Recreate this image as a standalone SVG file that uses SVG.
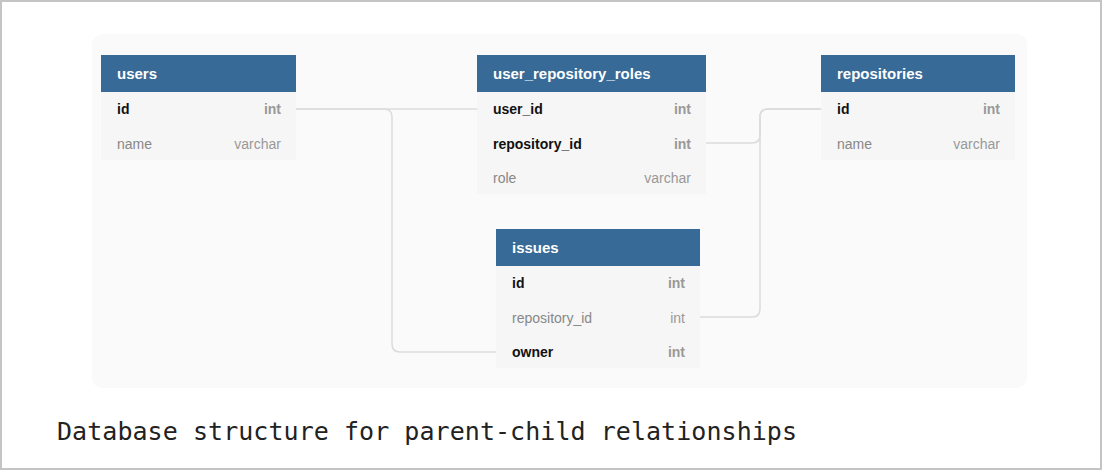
<svg xmlns="http://www.w3.org/2000/svg" width="1102" height="470" viewBox="0 0 1102 470">
<style>
.hdr{fill:#376a96}
.row{fill:#f6f6f6}
.ht{font-family:"Liberation Sans",Arial,sans-serif;font-size:15px;font-weight:bold;fill:#ffffff}
.fk{font-family:"Liberation Sans",Arial,sans-serif;font-size:14px;font-weight:bold;fill:#111111}
.fn{font-family:"Liberation Sans",Arial,sans-serif;font-size:14px;fill:#888888}
.tk{font-family:"Liberation Sans",Arial,sans-serif;font-size:14px;font-weight:bold;fill:#999999;text-anchor:end}
.tn{font-family:"Liberation Sans",Arial,sans-serif;font-size:14px;fill:#999999;text-anchor:end}
.conn{fill:none;stroke:#dcdcdc;stroke-width:1.5}
.cap{font-family:"DejaVu Sans Mono","Liberation Mono",monospace;font-size:25px;fill:#222222}
</style>
<rect x="1" y="1" width="1100" height="468" fill="#ffffff" stroke="#c4c4c4" stroke-width="2"/>
<rect x="92" y="34" width="935" height="354" rx="10" fill="#fafafa"/>
<g id="connectors">
<path class="conn" d="M296 109 H477"/>
<path class="conn" d="M296 109 H384 Q392 109 392 117 V344 Q392 352 400 352 H496"/>
<path class="conn" d="M706 143 H752 Q760 143 760 135 V117 Q760 109 768 109 H821"/>
<path class="conn" d="M700 317 H752 Q760 317 760 309 V117 Q760 109 768 109 H821"/>
</g>
<g id="users">
<rect class="hdr" x="101" y="55" width="195" height="37"/>
<rect class="row" x="101" y="92" width="195" height="68"/>
<text class="ht" x="117" y="79">users</text>
<text class="fk" x="117" y="114">id</text><text class="tk" x="281" y="114">int</text>
<text class="fn" x="117" y="149">name</text><text class="tn" x="281" y="149">varchar</text>
</g>
<g id="user_repository_roles">
<rect class="hdr" x="477" y="55" width="229" height="37"/>
<rect class="row" x="477" y="92" width="229" height="102"/>
<text class="ht" x="493" y="79">user_repository_roles</text>
<text class="fk" x="493" y="114">user_id</text><text class="tk" x="691" y="114">int</text>
<text class="fk" x="493" y="149">repository_id</text><text class="tk" x="691" y="149">int</text>
<text class="fn" x="493" y="183">role</text><text class="tn" x="691" y="183">varchar</text>
</g>
<g id="repositories">
<rect class="hdr" x="821" y="55" width="194" height="37"/>
<rect class="row" x="821" y="92" width="194" height="68"/>
<text class="ht" x="837" y="79">repositories</text>
<text class="fk" x="837" y="114">id</text><text class="tk" x="1000" y="114">int</text>
<text class="fn" x="837" y="149">name</text><text class="tn" x="1000" y="149">varchar</text>
</g>
<g id="issues">
<rect class="hdr" x="496" y="229" width="204" height="37"/>
<rect class="row" x="496" y="266" width="204" height="102"/>
<text class="ht" x="512" y="253">issues</text>
<text class="fk" x="512" y="288">id</text><text class="tk" x="685" y="288">int</text>
<text class="fn" x="512" y="323">repository_id</text><text class="tn" x="685" y="323">int</text>
<text class="fk" x="512" y="357">owner</text><text class="tk" x="685" y="357">int</text>
</g>
<text class="cap" x="57" y="440" textLength="740" lengthAdjust="spacing">Database structure for parent-child relationships</text>
</svg>
